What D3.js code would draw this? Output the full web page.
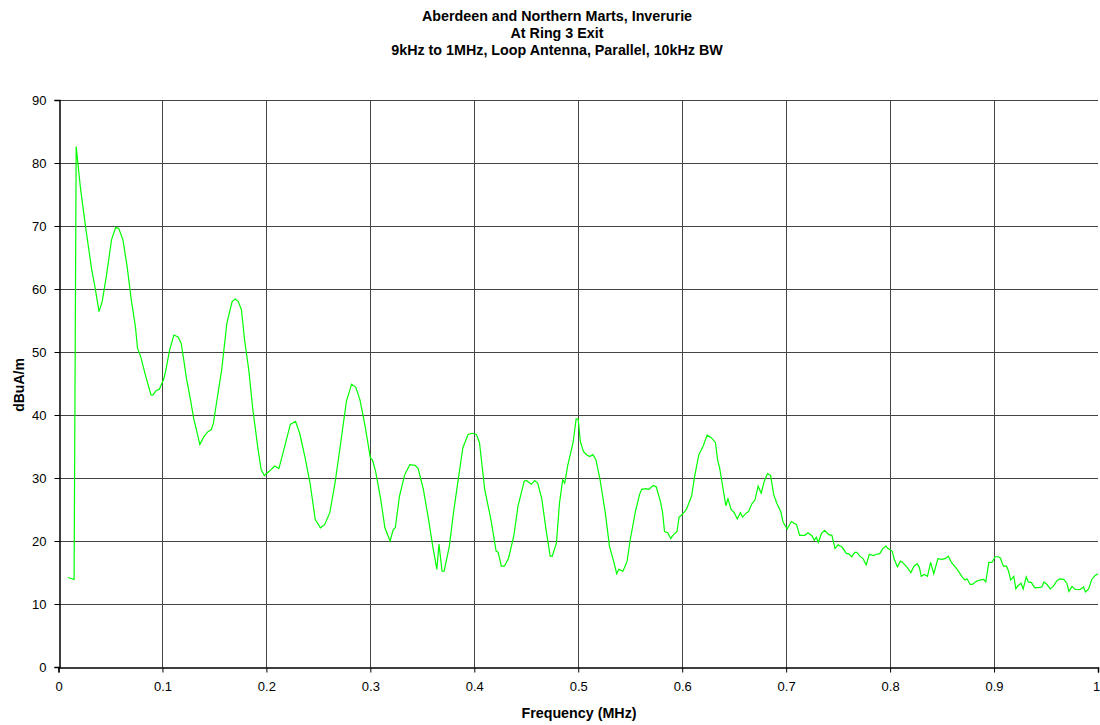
<!DOCTYPE html>
<html>
<head>
<meta charset="utf-8">
<script src="https://cdn.jsdelivr.net/npm/d3@7"></script>
<style>
  body { margin: 0; background: #fff; }
  text { font-family: "Liberation Sans", Arial, sans-serif; }
</style>
</head>
<body>
<svg id="chart"></svg>
<script>
// Chart text
const titleLines = [
    "Aberdeen and Northern Marts, Inverurie",
    "At Ring 3 Exit",
    "9kHz to 1MHz, Loop Antenna, Parallel, 10kHz BW"
];
const xLabel = "Frequency (MHz)";
const yLabel = "dBuA/m";

// Tick values
const xTicks = [0, 0.1, 0.2, 0.3, 0.4, 0.5, 0.6, 0.7, 0.8, 0.9, 1];
const yTicks = [0, 10, 20, 30, 40, 50, 60, 70, 80, 90];

const freq = [
    0.009, 0.013, 0.015, 0.017, 0.021, 0.026, 0.032, 0.035, 0.039, 0.042,
    0.046, 0.051, 0.055, 0.058, 0.062, 0.066, 0.070, 0.074, 0.076, 0.079,
    0.084, 0.089, 0.091, 0.094, 0.097, 0.101, 0.103, 0.107, 0.111, 0.115,
    0.118, 0.121, 0.123, 0.127, 0.130, 0.136, 0.140, 0.144, 0.147, 0.149,
    0.152, 0.157, 0.162, 0.167, 0.170, 0.173, 0.176, 0.179, 0.183, 0.187,
    0.192, 0.195, 0.198, 0.203, 0.208, 0.212, 0.216, 0.223, 0.228, 0.232,
    0.237, 0.242, 0.247, 0.252, 0.256, 0.261, 0.266, 0.271, 0.277, 0.282,
    0.286, 0.290, 0.295, 0.300, 0.302, 0.305, 0.310, 0.314, 0.319, 0.322,
    0.324, 0.328, 0.333, 0.338, 0.343, 0.346, 0.351, 0.356, 0.360, 0.364,
    0.366, 0.369, 0.371, 0.376, 0.380, 0.385, 0.389, 0.394, 0.398, 0.402,
    0.405, 0.410, 0.416, 0.421, 0.423, 0.426, 0.429, 0.433, 0.438, 0.442,
    0.448, 0.450, 0.455, 0.458, 0.461, 0.465, 0.469, 0.473, 0.475, 0.479,
    0.482, 0.485, 0.487, 0.490, 0.495, 0.498, 0.500, 0.502, 0.505, 0.508,
    0.511, 0.514, 0.517, 0.521, 0.526, 0.530, 0.534, 0.537, 0.539, 0.543,
    0.547, 0.550, 0.555, 0.559, 0.561, 0.565, 0.568, 0.572, 0.575, 0.579,
    0.581, 0.583, 0.586, 0.589, 0.591, 0.595, 0.597, 0.600, 0.604, 0.609,
    0.612, 0.616, 0.620, 0.624, 0.628, 0.632, 0.634, 0.636, 0.640, 0.642,
    0.644, 0.647, 0.650, 0.653, 0.656, 0.658, 0.662, 0.664, 0.667, 0.670,
    0.673, 0.676, 0.679, 0.682, 0.685, 0.688, 0.691, 0.695, 0.697, 0.701,
    0.705, 0.710, 0.713, 0.718, 0.721, 0.725, 0.727, 0.729, 0.731, 0.734,
    0.737, 0.741, 0.744, 0.747, 0.750, 0.754, 0.758, 0.760, 0.763, 0.766,
    0.768, 0.771, 0.774, 0.777, 0.780, 0.784, 0.787, 0.790, 0.793, 0.796,
    0.798, 0.802, 0.804, 0.807, 0.810, 0.812, 0.816, 0.820, 0.823, 0.826,
    0.828, 0.830, 0.833, 0.836, 0.839, 0.842, 0.846, 0.850, 0.853, 0.856,
    0.859, 0.864, 0.869, 0.872, 0.874, 0.877, 0.879, 0.883, 0.886, 0.890,
    0.892, 0.895, 0.898, 0.901, 0.904, 0.906, 0.909, 0.912, 0.914, 0.916,
    0.919, 0.921, 0.923, 0.926, 0.928, 0.931, 0.933, 0.936, 0.939, 0.943,
    0.946, 0.948, 0.951, 0.954, 0.957, 0.960, 0.963, 0.967, 0.970, 0.972,
    0.975, 0.978, 0.981, 0.983, 0.986, 0.988, 0.991, 0.994, 0.997, 1.000
];
const level = [
    14.2, 14.0, 13.9, 82.6, 76.2, 69.9, 63.0, 60.4, 56.4, 58.0,
    62.0, 67.8, 69.8, 69.6, 67.8, 63.6, 58.3, 54.0, 50.6, 49.3,
    46.1, 43.2, 43.2, 43.9, 44.1, 45.6, 46.9, 50.4, 52.7, 52.4,
    51.4, 48.2, 45.9, 42.4, 39.5, 35.3, 36.6, 37.4, 37.7, 38.7,
    41.9, 47.2, 54.6, 58.0, 58.4, 58.0, 56.7, 51.9, 47.2, 40.8,
    34.5, 31.3, 30.4, 31.1, 31.9, 31.5, 34.0, 38.5, 39.0, 37.1,
    33.4, 29.2, 23.4, 22.1, 22.6, 24.5, 29.2, 35.0, 42.2, 44.9,
    44.4, 42.4, 38.2, 33.2, 32.9, 31.1, 26.6, 22.1, 20.0, 21.8,
    22.1, 27.1, 30.5, 32.1, 32.0, 31.5, 28.2, 23.4, 19.2, 15.5,
    19.5, 15.2, 15.2, 19.2, 24.5, 30.3, 34.8, 36.9, 37.1, 36.9,
    35.6, 28.2, 23.4, 18.4, 18.2, 16.0, 16.0, 17.3, 20.8, 25.5,
    29.5, 29.6, 29.0, 29.6, 29.2, 26.6, 21.8, 17.6, 17.6, 19.7,
    26.1, 29.7, 29.2, 32.1, 35.6, 39.4, 39.3, 35.8, 34.2, 33.7,
    33.4, 33.7, 32.9, 29.7, 24.5, 19.2, 16.8, 14.8, 15.5, 15.2,
    16.8, 20.2, 24.7, 27.4, 28.2, 28.3, 28.2, 28.8, 28.6, 26.3,
    24.7, 21.5, 21.3, 20.4, 20.9, 21.5, 23.8, 24.2, 25.0, 27.1,
    30.3, 33.7, 35.0, 36.8, 36.4, 35.6, 32.9, 31.6, 27.6, 25.6,
    26.7, 25.0, 24.5, 23.5, 24.5, 23.8, 24.5, 24.7, 25.9, 26.5,
    28.7, 27.6, 29.5, 30.7, 30.4, 27.4, 26.0, 24.6, 23.0, 21.9,
    23.1, 22.6, 20.9, 20.9, 21.3, 20.8, 20.1, 20.6, 19.8, 21.2,
    21.7, 21.0, 20.9, 18.8, 19.4, 19.0, 18.0, 18.0, 17.5, 18.2,
    18.2, 17.6, 17.2, 16.2, 17.9, 17.7, 17.9, 18.0, 18.8, 19.2,
    18.8, 18.4, 17.1, 15.9, 16.8, 16.6, 15.9, 15.0, 16.0, 16.4,
    15.9, 14.4, 14.7, 14.4, 16.6, 14.8, 17.2, 17.1, 17.2, 17.6,
    16.6, 15.6, 14.4, 13.8, 14.0, 13.1, 13.1, 13.6, 13.8, 13.9,
    13.5, 16.6, 16.6, 17.5, 17.5, 17.3, 16.0, 16.0, 15.2, 13.8,
    14.4, 12.4, 12.9, 13.3, 12.4, 14.3, 13.5, 13.4, 12.6, 12.6,
    12.7, 13.5, 13.1, 12.4, 12.8, 13.6, 14.0, 13.9, 13.3, 12.0,
    12.8, 12.3, 12.3, 12.3, 12.7, 11.9, 12.4, 13.9, 14.5, 14.8
];

const data = freq.map((f, i) => ({f: f, v: level[i]}));

// Dimensions
const width = 1100, height = 725;
const margin = {top: 100, right: 2, bottom: 58, left: 58.5};

const svg = d3.select("#chart")
    .attr("width", width)
    .attr("height", height);

// Scales
const xScale = d3.scaleLinear()
    .domain([0, 1])
    .range([margin.left, width - margin.right]);

const yScale = d3.scaleLinear()
    .domain([0, 90])
    .range([height - margin.bottom, margin.top]);

// Gridlines
svg.append("g")
    .selectAll("line.hgrid")
    .data(yTicks.filter(d => d > 0))
    .enter().append("line")
    .attr("x1", xScale(0))
    .attr("x2", xScale(1))
    .attr("y1", d => Math.round(yScale(d)) + 0.5)
    .attr("y2", d => Math.round(yScale(d)) + 0.5)
    .attr("stroke", "#444")
    .attr("stroke-width", 1);

svg.append("g")
    .selectAll("line.vgrid")
    .data(xTicks.filter(d => d > 0 && d < 1))
    .enter().append("line")
    .attr("x1", d => Math.round(xScale(d)) + 0.5)
    .attr("x2", d => Math.round(xScale(d)) + 0.5)
    .attr("y1", yScale(90))
    .attr("y2", yScale(0))
    .attr("stroke", "#444")
    .attr("stroke-width", 1);

// Axes
const xAxis = svg.append("g")
    .attr("transform", `translate(0, ${Math.round(yScale(0)) + 0.5})`)
    .call(d3.axisBottom(xScale).tickValues(xTicks).tickSize(5).tickPadding(9)
        .tickFormat(d => d3.format("")(+d.toFixed(1))));

const yAxis = svg.append("g")
    .attr("transform", `translate(${Math.round(xScale(0)) + 0.5}, 0)`)
    .call(d3.axisLeft(yScale).tickValues(yTicks).tickSize(5).tickPadding(8));

[xAxis, yAxis].forEach(a => {
    a.select(".domain").attr("stroke", "#000").attr("stroke-width", 1.5);
    a.selectAll(".tick line").attr("stroke", "#000");
    a.selectAll(".tick text")
        .attr("font-family", "Liberation Sans, Arial, sans-serif")
        .attr("font-size", 13)
        .attr("fill", "#000");
});

// keep the last x label inside the window
xAxis.selectAll(".tick text").filter(d => d === 1).attr("dx", -2);

// Trace
const line = d3.line()
    .x(d => xScale(d.f))
    .y(d => yScale(d.v));

svg.append("path")
    .datum(data)
    .attr("d", line)
    .attr("fill", "none")
    .attr("stroke", "#00ff00")
    .attr("stroke-width", 1.2);

// Title
svg.append("g")
    .selectAll("text")
    .data(titleLines)
    .enter().append("text")
    .attr("x", 557)
    .attr("y", (d, i) => 21 + i * 17)
    .attr("text-anchor", "middle")
    .attr("font-size", 14.3)
    .attr("font-weight", "bold")
    .text(d => d);

// Axis labels
svg.append("text")
    .attr("x", 579)
    .attr("y", 718)
    .attr("text-anchor", "middle")
    .attr("font-size", 14.3)
    .attr("font-weight", "bold")
    .text(xLabel);

svg.append("text")
    .attr("transform", "translate(24, 385) rotate(-90)")
    .attr("text-anchor", "middle")
    .attr("font-size", 14)
    .attr("font-weight", "bold")
    .text(yLabel);
</script>
</body>
</html>
